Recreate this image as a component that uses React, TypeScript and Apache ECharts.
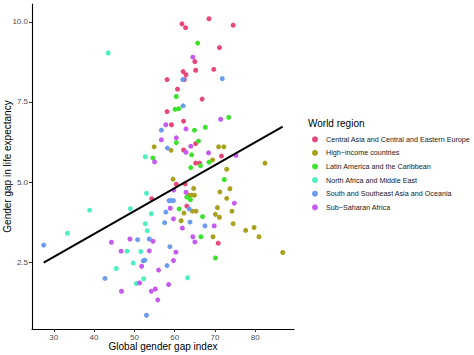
import React, { useEffect, useRef } from "react";
import * as echarts from "echarts";

const regions = [
  "Central Asia and Central and Eastern Europe",
  "High\u2212income countries",
  "Latin America and the Caribbean",
  "North Africa and Middle East",
  "South and Southeast Asia and Oceania",
  "Sub\u2212Saharan Africa",
];
const regionColors = ["#E9467A", "#A9A11E", "#3DE32B", "#4FEFC4", "#6B9DEF", "#C75AEF"];

// [global gender gap index, gender gap in life expectancy]
const centralAsiaEurope: number[][] = [
  [68.5, 10.1], [61.8, 9.94], [62.7, 9.82], [74.5, 9.9], [71.1, 9.2], [65.0, 8.76],
  [62.1, 8.45], [62.8, 8.35], [65.2, 8.49], [69.7, 8.52], [58.1, 8.2], [62.4, 8.2],
  [60.7, 7.9], [66.8, 7.59], [58.1, 7.2], [62.2, 6.9], [59.2, 6.79], [65.2, 6.2],
  [62.2, 6.0], [71.6, 5.81], [65.2, 5.59], [66.2, 5.59], [60.4, 4.93], [62.6, 4.94],
  [54.3, 4.48], [63.0, 4.25], [70.8, 3.09],
];
const highIncome: number[][] = [
  [54.9, 6.1], [59.1, 5.99], [70.9, 6.1], [72.2, 6.1], [69.4, 5.69], [82.4, 5.59],
  [72.9, 5.4], [59.6, 5.09], [64.7, 4.8], [63.6, 4.59], [64.2, 4.59], [64.9, 4.59],
  [71.2, 4.69], [73.7, 4.79], [72.9, 4.49], [64.4, 4.09], [65.3, 4.09], [62.3, 4.03],
  [70.6, 4.2], [74.2, 4.09], [70.1, 3.99], [71.1, 3.9], [61.6, 3.79], [74.5, 3.7],
  [77.6, 3.49], [79.7, 3.58], [80.9, 3.29], [69.5, 3.29], [86.8, 2.8],
];
const latinAmerica: number[][] = [
  [65.7, 9.34], [60.4, 7.67], [60.1, 7.27], [61.0, 7.29], [73.4, 7.02], [67.6, 6.71],
  [64.9, 6.62], [60.4, 6.23], [65.9, 6.28], [64.2, 5.85], [54.6, 5.75], [66.4, 5.51],
  [68.5, 5.62], [64.0, 5.45], [72.3, 5.08], [63.0, 4.53], [63.9, 4.45], [61.1, 4.16],
  [66.9, 3.92], [66.5, 3.29], [70.1, 2.63],
];
const northAfricaME: number[][] = [
  [43.5, 9.03], [52.7, 5.79], [33.4, 3.4], [38.9, 4.12], [45.5, 2.3], [48.2, 2.84],
  [49.0, 4.17], [49.7, 2.47], [50.5, 1.83], [51.6, 2.83], [52.3, 1.98], [53.0, 4.65],
  [54.2, 4.01], [52.7, 3.7], [53.2, 3.48], [63.2, 2.01],
];
const southAsiaOceania: number[][] = [
  [27.5, 3.03], [42.7, 1.99], [50.8, 3.2], [52.2, 2.54], [52.6, 2.56], [53.7, 3.22],
  [53.0, 0.84], [58.6, 4.42], [59.1, 4.42], [59.7, 4.42], [63.6, 4.16], [57.8, 4.06],
  [57.5, 3.73], [63.8, 3.75], [67.5, 3.63], [58.8, 2.98], [58.1, 2.39], [62.0, 8.2],
  [71.8, 8.23], [62.1, 7.38], [56.7, 6.62], [58.2, 6.06],
];
const subSaharan: number[][] = [
  [44.3, 3.12], [46.7, 2.84], [46.8, 1.59], [48.9, 3.22], [51.3, 1.85], [51.8, 2.37],
  [54.6, 3.15], [53.7, 2.85], [54.2, 1.59], [55.2, 1.66], [55.8, 1.32], [56.0, 2.25],
  [58.5, 1.8], [59.8, 4.75], [62.8, 4.68], [58.9, 4.18], [59.7, 3.85], [61.9, 3.56],
  [64.5, 3.29], [65.0, 3.13], [60.3, 2.81], [59.7, 2.55], [69.8, 3.63], [74.8, 4.34],
  [64.5, 8.9], [57.8, 6.79], [62.8, 6.66], [60.4, 6.38], [56.7, 6.32], [64.0, 6.12],
  [62.8, 5.93], [68.4, 5.91], [55.0, 5.63], [75.2, 5.83], [71.4, 6.96],
];
const regionData = [centralAsiaEurope, highIncome, latinAmerica, northAfricaME, southAsiaOceania, subSaharan];

// fitted linear trend, endpoints
const trendX = [27.5, 86.8];
const trendY = [2.48, 6.73];

const xTicks = [30, 40, 50, 60, 70, 80];
const yTicks = [2.5, 5.0, 7.5, 10.0];

const FONT = "Liberation Sans, Arial, Helvetica, sans-serif";

export default function App() {
  const ref = useRef<HTMLDivElement>(null);
  useEffect(() => {
    if (!ref.current) return;
    const chart = echarts.init(ref.current, undefined, { renderer: "svg" });
    const scatter = regions.map((name, i) => ({
      name,
      type: "scatter",
      data: regionData[i],
      symbol: "circle",
      symbolSize: 5,
      itemStyle: { color: regionColors[i], opacity: 1 },
      z: 2,
    }));
    chart.setOption({
      animation: false,
      textStyle: { fontFamily: FONT },
      grid: { left: 32, right: 180, top: 4, bottom: 26, containLabel: false, outerBoundsMode: "none" },
      xAxis: {
        type: "value",
        min: 24.6,
        max: 89.6,
        splitLine: { show: false },
        axisLine: { show: true, onZero: false, lineStyle: { color: "#000", width: 1.1 } },
        axisTick: { show: true, length: 3, customValues: xTicks, lineStyle: { color: "#333" } },
        axisLabel: { customValues: xTicks, fontSize: 8, color: "#4d4d4d", margin: 4, fontFamily: FONT },
        name: "Global gender gap index",
        nameLocation: "middle",
        nameGap: 12,
        nameMoveOverlap: false,
        nameTextStyle: { fontSize: 10, color: "#000", fontFamily: FONT },
      },
      yAxis: {
        type: "value",
        min: 0.41,
        max: 10.56,
        splitLine: { show: false },
        axisLine: { show: true, onZero: false, lineStyle: { color: "#000", width: 1.1 } },
        axisTick: { show: true, length: 3, customValues: yTicks, lineStyle: { color: "#333" } },
        axisLabel: {
          customValues: yTicks,
          fontSize: 8,
          color: "#4d4d4d",
          margin: 4,
          fontFamily: FONT,
          formatter: (v: number) => v.toFixed(1),
        },
        name: "Gender gap in life expectancy",
        nameLocation: "middle",
        nameGap: 20,
        nameMoveOverlap: false,
        nameTextStyle: { fontSize: 10, color: "#000", fontFamily: FONT },
      },
      legend: {
        orient: "vertical",
        left: 307,
        top: 129.3,
        data: regions,
        icon: "circle",
        itemWidth: 6,
        itemHeight: 6,
        itemGap: 3.6,
        textStyle: { fontSize: 7.2, color: "#1a1a1a", fontFamily: FONT, lineHeight: 10, padding: [0, 0, 0, 3] },
        selectedMode: false,
      },
      graphic: [
        {
          type: "text",
          left: 308,
          top: 118,
          style: { text: "World region", fontSize: 10, fill: "#000", fontFamily: FONT },
        },
      ],
      series: [
        ...scatter,
        {
          name: "trend",
          type: "line",
          data: trendX.map((x, i) => [x, trendY[i]]),
          symbol: "none",
          lineStyle: { color: "#000", width: 2 },
          z: 3,
          silent: true,
        },
      ],
    });
    return () => chart.dispose();
  }, []);
  return (
    <div
      ref={ref}
      style={{ position: "fixed", left: 0, top: 0, width: 474, height: 355, background: "#fff" }}
    />
  );
}
